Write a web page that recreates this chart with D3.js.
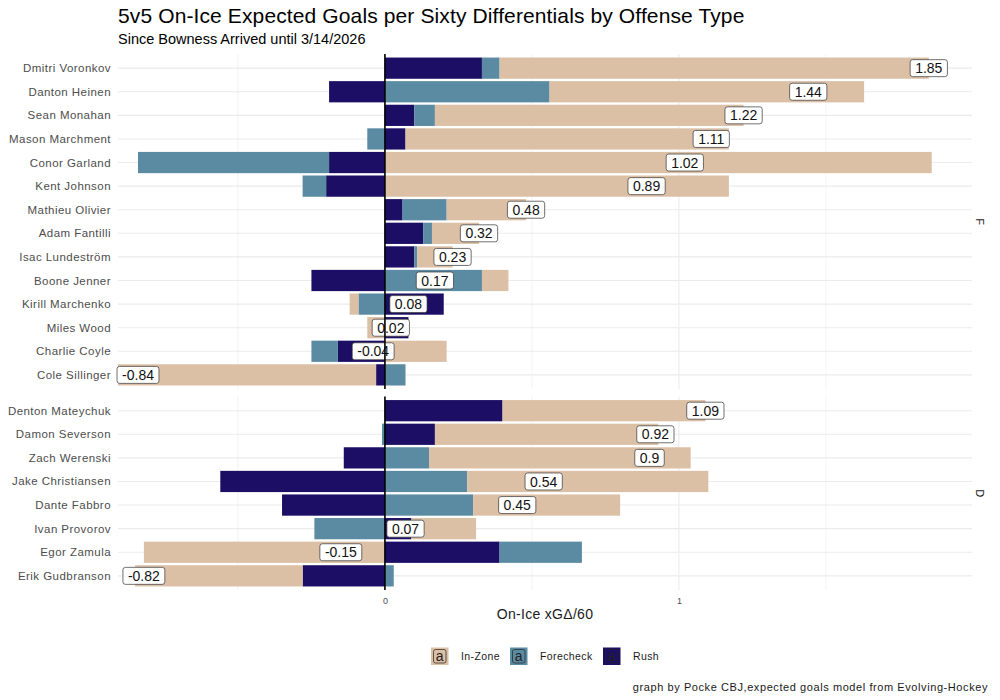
<!DOCTYPE html>
<html>
<head>
<meta charset="utf-8">
<script src="https://cdn.jsdelivr.net/npm/d3@7"></script>
<style>
  body { margin: 0; background: #fff; }
  svg { font-family: "Liberation Sans", Arial, sans-serif; }
</style>
</head>
<body>
<svg id="chart" width="1000" height="700"></svg>
<script>
// players in display order, per position group
const forwards = ["Dmitri Voronkov", "Danton Heinen", "Sean Monahan", "Mason Marchment", "Conor Garland",
    "Kent Johnson", "Mathieu Olivier", "Adam Fantilli", "Isac Lundeström", "Boone Jenner",
    "Kirill Marchenko", "Miles Wood", "Charlie Coyle", "Cole Sillinger"];
const defense = ["Denton Mateychuk", "Damon Severson", "Zach Werenski", "Jake Christiansen",
    "Dante Fabbro", "Ivan Provorov", "Egor Zamula", "Erik Gudbranson"];

// xG differential per 60 by offense type (forwards then defense, same order as above)
const rushF      = [0.33, -0.19, 0.10, 0.07, -0.19, -0.20, 0.06, 0.13, 0.10, -0.25, 0.20, 0.08, -0.16, -0.03];
const forecheckF = [0.06, 0.56, 0.07, -0.06, -0.65, -0.08, 0.15, 0.03, 0.01, 0.33, -0.09, 0.00, -0.09, 0.07];
const inZoneF    = [1.46, 1.07, 1.05, 1.10, 1.86, 1.17, 0.27, 0.16, 0.12, 0.09, -0.03, -0.06, 0.21, -0.88];

const rushD      = [0.40, 0.17, -0.14, -0.56, -0.35, 0.09, 0.39, -0.28];
const forecheckD = [0.00, -0.01, 0.15, 0.28, 0.30, -0.24, 0.28, 0.03];
const inZoneD    = [0.69, 0.76, 0.89, 0.82, 0.50, 0.22, -0.82, -0.57];

const types = ["In-Zone", "Forecheck", "Rush"];
const colors = { "In-Zone": "#dbc0a6", "Forecheck": "#5b8ba2", "Rush": "#1c0e64" };
const stackOrder = ["Rush", "Forecheck", "In-Zone"]; // from zero outward

const xDomain = [-0.908, 1.997];
const xTicks = [0, 1];
const xMinor = [-0.5, 0.5, 1.5];

const svg = d3.select("#chart");
const left = 118, right = 972;
const plotTop = 54, plotBottom = 590, panelGap = 7.5;

const x = d3.scaleLinear().domain(xDomain).range([left, right]);

const groups = [
    { key: "F", names: forwards, rush: rushF, fc: forecheckF, iz: inZoneF },
    { key: "D", names: defense, rush: rushD, fc: forecheckD, iz: inZoneD }
];

// free space facets: height proportional to (n + 0.2)
const units = d3.sum(groups, g => g.names.length + 0.2);
const step = (plotBottom - plotTop - panelGap) / units;
let yCursor = plotTop;
groups.forEach(g => {
    g.top = yCursor;
    g.bottom = yCursor + step * (g.names.length + 0.2);
    yCursor = g.bottom + panelGap;
    g.y = d3.scaleBand().domain(g.names).range([g.top, g.bottom]).paddingInner(0.1).paddingOuter(0.15);
    g.rows = g.names.map((name, i) => {
        const vals = { "Rush": g.rush[i], "Forecheck": g.fc[i], "In-Zone": g.iz[i] };
        let pos = 0, neg = 0;
        const segs = stackOrder.map(t => {
            const v = vals[t];
            let x0, x1;
            if (v >= 0) { x0 = pos; x1 = pos + v; pos = x1; }
            else { x0 = neg; x1 = neg + v; neg = x1; }
            return { name, type: t, x0, x1 };
        });
        const total = Math.round((g.rush[i] + g.fc[i] + g.iz[i]) * 100) / 100;
        return { name, segs, total };
    });
});

svg.append("defs").append("clipPath").attr("id", "clip")
    .append("rect").attr("x", left).attr("y", 0).attr("width", right - left).attr("height", 700);

// title, subtitle
svg.append("text").attr("x", left).attr("y", 23)
    .attr("font-size", 21).attr("fill", "#000").attr("letter-spacing", 0.12)
    .text("5v5 On-Ice Expected Goals per Sixty Differentials by Offense Type");
svg.append("text").attr("x", left).attr("y", 44)
    .attr("font-size", 14.5).attr("fill", "#000")
    .text("Since Bowness Arrived until 3/14/2026");

// panels: grid, bars, axis labels
groups.forEach(g => {
    const panel = svg.append("g");
    const bw = g.y.bandwidth();

    panel.selectAll(".hgrid").data(g.names).join("line")
        .attr("x1", left).attr("x2", right)
        .attr("y1", d => g.y(d) + bw / 2).attr("y2", d => g.y(d) + bw / 2)
        .attr("stroke", "#ebebeb").attr("stroke-width", 1.1);

    panel.selectAll(".vminor").data(xMinor).join("line")
        .attr("x1", d => x(d)).attr("x2", d => x(d))
        .attr("y1", g.top).attr("y2", g.bottom)
        .attr("stroke", "#ebebeb").attr("stroke-width", 0.6);

    panel.selectAll(".vmajor").data(xTicks).join("line")
        .attr("x1", d => x(d)).attr("x2", d => x(d))
        .attr("y1", g.top).attr("y2", g.bottom)
        .attr("stroke", "#ebebeb").attr("stroke-width", 1.1);

    panel.append("g").attr("clip-path", "url(#clip)")
        .selectAll("rect").data(g.rows.flatMap(r => r.segs)).join("rect")
        .attr("x", d => x(Math.min(d.x0, d.x1)))
        .attr("width", d => Math.abs(x(d.x1) - x(d.x0)))
        .attr("y", d => g.y(d.name))
        .attr("height", bw)
        .attr("fill", d => colors[d.type]);

    // player names
    panel.selectAll(".ylab").data(g.names).join("text")
        .attr("x", 111).attr("y", d => g.y(d) + bw / 2)
        .attr("dy", "0.35em").attr("text-anchor", "end")
        .attr("font-size", 11.5).attr("fill", "#4d4d4d")
        .attr("letter-spacing", 0.45)
        .text(d => d);

    // facet strip
    const sy = (g.top + g.bottom) / 2;
    panel.append("text")
        .attr("transform", `translate(980,${sy}) rotate(90)`)
        .attr("text-anchor", "middle").attr("dy", "0.35em")
        .attr("font-size", 11).attr("fill", "#1a1a1a")
        .text(g.key);
});

// total labels
groups.forEach(g => {
    const bw = g.y.bandwidth();
    const lab = svg.append("g").selectAll("g").data(g.rows).join("g")
        .attr("transform", d => `translate(${x(d.total)},${g.y(d.name) + bw / 2})`);
    lab.append("text")
        .attr("text-anchor", "middle").attr("dy", "0.36em")
        .attr("font-size", 14).attr("fill", "#111")
        .text(d => String(d.total));
    lab.each(function () {
        const t = d3.select(this).select("text").node();
        const w = t.getComputedTextLength() + 10;
        d3.select(this).insert("rect", "text")
            .attr("x", -w / 2).attr("y", -8.5)
            .attr("width", w).attr("height", 17)
            .attr("rx", 2.5)
            .attr("fill", "#fff").attr("stroke", "#333").attr("stroke-width", 0.7);
    });
});

// zero line on top
groups.forEach(g => {
    svg.append("line")
        .attr("x1", x(0)).attr("x2", x(0))
        .attr("y1", g.top).attr("y2", g.bottom)
        .attr("stroke", "#000").attr("stroke-width", 1.6);
});

// x axis (bottom panel only)
const lastPanel = groups[groups.length - 1];
const xAxis = svg.append("g")
    .attr("transform", `translate(0,${lastPanel.bottom})`)
    .call(d3.axisBottom(x).tickValues(xTicks).tickSize(0).tickPadding(8).tickFormat(d3.format("d")));
xAxis.select(".domain").remove();
xAxis.selectAll("text").attr("font-size", 9).attr("fill", "#4d4d4d")
    .attr("font-family", "Liberation Sans, Arial, sans-serif");

svg.append("text")
    .attr("x", (left + right) / 2).attr("y", 619)
    .attr("text-anchor", "middle").attr("font-size", 14).attr("fill", "#1a1a1a")
    .attr("letter-spacing", 0.3)
    .text("On-Ice xGΔ/60");

// legend
const legendItems = [
    { type: "In-Zone", x: 431 },
    { type: "Forecheck", x: 510 },
    { type: "Rush", x: 603 }
];
const legend = svg.append("g").selectAll("g").data(legendItems).join("g")
    .attr("transform", d => `translate(${d.x},647.5)`);
legend.append("rect").attr("width", 17.5).attr("height", 17.5).attr("fill", d => colors[d.type]);
legend.append("rect").attr("x", 2.5).attr("y", 2).attr("width", 12.5).attr("height", 13.5)
    .attr("rx", 2).attr("fill", "none").attr("stroke", "#222").attr("stroke-width", 0.7);
legend.append("text").attr("x", 8.75).attr("y", 13.5).attr("text-anchor", "middle")
    .attr("font-size", 14).attr("fill", "#222").text("a");
legend.append("text").attr("x", 30).attr("y", 8.75).attr("dy", "0.35em")
    .attr("font-size", 10.5).attr("fill", "#1a1a1a").attr("letter-spacing", 0.4)
    .text(d => d.type);

// caption
svg.append("text")
    .attr("x", 988).attr("y", 691).attr("text-anchor", "end")
    .attr("font-size", 11).attr("fill", "#1a1a1a").attr("letter-spacing", 0.58)
    .text("graph by Pocke CBJ,expected goals model from Evolving-Hockey");
</script>
</body>
</html>
